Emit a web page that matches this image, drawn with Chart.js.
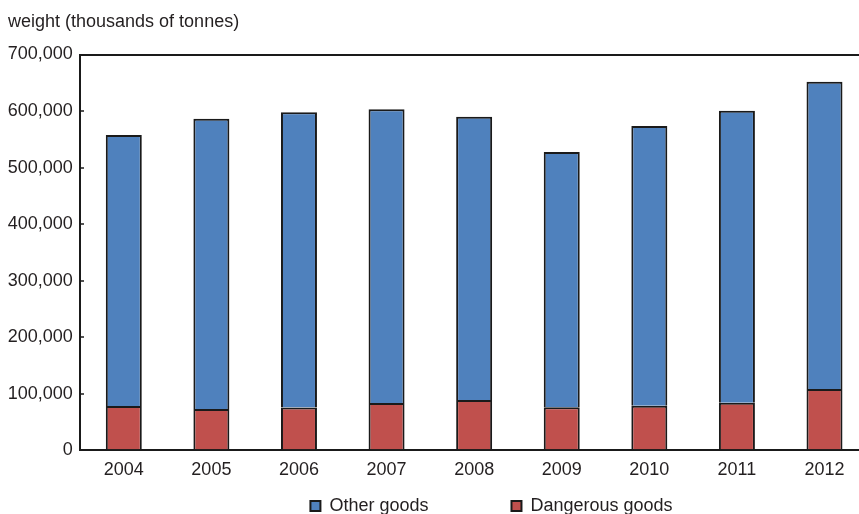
<!DOCTYPE html>
<html>
<head>
<meta charset="utf-8">
<script src="https://cdn.jsdelivr.net/npm/chart.js@4.4.1/dist/chart.umd.min.js"></script>
<style>
  html, body { margin: 0; padding: 0; background: #fff; overflow: hidden; }
  #wrap { width: 872px; height: 514px; position: relative; }
</style>
</head>
<body>
<div id="wrap"><canvas id="c"></canvas></div>
<script>
const years = ['2004', '2005', '2006', '2007', '2008', '2009', '2010', '2011', '2012'];
const dangerousGoods = [78500, 73000, 75500, 83500, 89000, 76000, 79000, 84000, 108500];
const otherGoods = [479000, 513500, 522500, 519500, 501000, 451500, 494500, 516500, 543500];
const yTicks = [0, 100000, 200000, 300000, 400000, 500000, 600000, 700000];
const axisTitle = 'weight (thousands of tonnes)';
const seriesNames = ['Dangerous goods', 'Other goods'];

const FONT = '"Liberation Sans", Arial, sans-serif';
const FS = 18;
const TXT = '#231f20';
const EDGE = '#1a1a1a';

const legendPlacer = {
  id: 'legendPlacer',
  beforeLayout(chart) {
    const lg = chart.legend;
    if (lg && !lg._patched) {
      const orig = lg.fit;
      lg.fit = function () { orig.call(this); this.height = 33.7; };
      lg._patched = true;
    }
  },
  afterLayout(chart) {
    const lg = chart.legend;
    if (!lg) return;
    const pad = lg.options.labels.padding;
    lg.top = 497 - pad;
    lg.bottom = chart.height;
    lg.height = lg.bottom - lg.top;
    const center = 491.5;
    const half = 400;
    lg.left = center - half;
    lg.right = center + half;
    lg.width = lg.right - lg.left;
  }
};

new Chart(document.getElementById('c'), {
  type: 'bar',
  data: {
    labels: years,
    datasets: [
      {
        label: seriesNames[0],
        data: dangerousGoods,
        backgroundColor: '#C0504D',
        borderColor: EDGE,
        borderWidth: 2,
        barPercentage: 0.411,
        categoryPercentage: 1
      },
      {
        label: seriesNames[1],
        data: otherGoods,
        backgroundColor: '#4F81BD',
        borderColor: EDGE,
        borderWidth: 2,
        barPercentage: 0.411,
        categoryPercentage: 1
      }
    ]
  },
  options: {
    responsive: true,
    maintainAspectRatio: false,
    animation: false,
    devicePixelRatio: 1,
    layout: { padding: { left: 8, right: 3.7, top: 0, bottom: 0 } },
    plugins: {
      tooltip: { enabled: false },
      title: {
        display: true,
        text: axisTitle,
        align: 'start',
        color: TXT,
        font: { family: FONT, size: FS, weight: 'normal' },
        padding: { top: 11, bottom: 21.9 }
      },
      legend: {
        position: 'bottom',
        reverse: true,
        labels: {
          color: TXT,
          boxWidth: 10,
          boxHeight: 10,
          padding: 83,
          font: { family: FONT, size: FS }
        }
      }
    },
    scales: {
      x: {
        stacked: true,
        grid: { display: false },
        border: { display: true, color: EDGE, width: 2 },
        ticks: { color: TXT, padding: 1, font: { family: FONT, size: FS }, maxRotation: 0 },
        afterFit(s) { s.height = 30; }
      },
      y: {
        stacked: true,
        min: 0,
        max: 700000,
        afterBuildTicks(s) { s.ticks = yTicks.map(v => ({ value: v })); },
        grid: {
          display: true,
          drawTicks: true,
          tickLength: -4,
          color: c => (c.tick && c.tick.value === 700000) ? EDGE : 'rgba(0,0,0,0)',
          lineWidth: 2,
          tickColor: EDGE,
          tickWidth: 1.5
        },
        border: { display: true, color: EDGE, width: 2 },
        ticks: {
          color: TXT,
          padding: 11.3,
          font: { family: FONT, size: FS },
          callback: v => v.toLocaleString('en-US')
        },
        afterFit(s) { s.width = 72; }
      }
    }
  },
  plugins: [legendPlacer]
});
</script>
</body>
</html>
